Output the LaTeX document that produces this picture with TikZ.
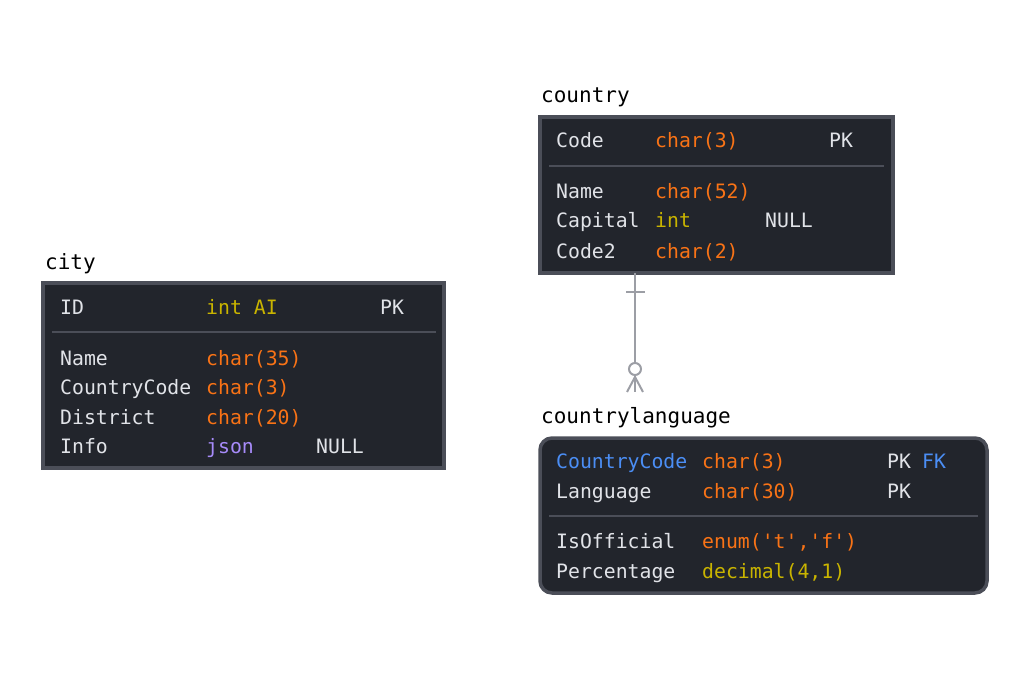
\documentclass[tikz,border=0pt]{standalone}
\usepackage{fontspec}
\setmonofont{DejaVu Sans Mono}
\usetikzlibrary{calc}

\definecolor{tblfill}{HTML}{22252C}
\definecolor{tblborder}{HTML}{4B4E58}
\definecolor{tbltext}{HTML}{E1E3E8}
\definecolor{typeorange}{HTML}{F97316}
\definecolor{typeyellow}{HTML}{C9B400}
\definecolor{typepurple}{HTML}{A78BFA}
\definecolor{keyblue}{HTML}{4B8EF5}
\definecolor{relgray}{HTML}{9C9EA5}

\tikzset{
  tbl/.style={draw=tblborder, fill=tblfill, line width=3.5pt, anchor=north west, inner sep=0pt, outer sep=0pt},
  tbltitle/.style={anchor=base west, inner sep=0pt, font=\ttfamily\fontsize{21}{21}\selectfont, text=black},
  fld/.style={anchor=base west, inner sep=0pt, font=\ttfamily\fontsize{19.8}{20}\selectfont, text=tbltext},
  sep/.style={draw=tblborder, line width=2pt},
  rel/.style={draw=relgray, line width=2pt}
}

\begin{document}
\begin{tikzpicture}[x=1pt, y=-1pt]
    % Canvas
    \useasboundingbox (0,0) rectangle (1032,676);

    % Table city
    \node[tbltitle] (cityTitle) at (45,269) {city};
    \node[tbl, minimum width=401pt, minimum height=185pt] (city) at (43,283) {};
    \draw[sep] (52,332) -- (436,332);
    \foreach \n/\t/\c/\y in {ID/int AI/typeyellow/314, Name/char(35)/typeorange/365,
        CountryCode/char(3)/typeorange/394, District/char(20)/typeorange/424, Info/json/typepurple/453}{
      \node[fld] (city-\n) at (60,\y) {\n};
      \node[fld, text=\c] (city-\n-type) at (206,\y) {\t};
    }
    \node[fld] (cityPK) at (380,314) {PK};
    \node[fld] (cityNull) at (316,453) {NULL};

    % Table country
    \node[tbltitle] (countryTitle) at (541,103) {country};
    \node[tbl, minimum width=353pt, minimum height=156pt] (country) at (540,117) {};
    \draw[sep] (549,166) -- (884,166);
    \foreach \n/\t/\c/\y in {Code/char(3)/typeorange/148, Name/char(52)/typeorange/199,
        Capital/int/typeyellow/228, Code2/char(2)/typeorange/258}{
      \node[fld] (country-\n) at (556,\y) {\n};
      \node[fld, text=\c] (country-\n-type) at (655,\y) {\t};
    }
    \node[fld] (countryPK) at (829,148) {PK};
    \node[fld] (countryNull) at (765,228) {NULL};

    % Table countrylanguage
    \node[tbltitle] (langTitle) at (541,423) {countrylanguage};
    \node[tbl, rounded corners=12pt, minimum width=447pt, minimum height=155pt] (lang) at (540,438) {};
    \draw[sep] (549,516) -- (978,516);
    \foreach \n/\t/\c/\y in {Language/char(30)/typeorange/498,
        IsOfficial/{enum('t','f')}/typeorange/548, Percentage/{decimal(4,1)}/typeyellow/578}{
      \node[fld] (lang-\n) at (556,\y) {\n};
      \node[fld, text=\c] (lang-\n-type) at (702,\y) {\t};
    }
    \node[fld, text=keyblue] (lang-CountryCode) at (556,468) {CountryCode};
    \node[fld, text=typeorange] (lang-CountryCode-type) at (702,468) {char(3)};
    \node[fld] (langPK1) at (887,468) {PK};
    \node[fld, text=keyblue] (langFK) at (922,468) {FK};
    \node[fld] (langPK2) at (887,498) {PK};

    % Relation country 1 -- 0..n countrylanguage
    \coordinate (relX) at (635,0);
    \coordinate (relFoot) at (635,392);
    \coordinate (relRing) at (635,369);
    \draw[rel] (country.south -| relX) -- ($(relRing)+(0,-6)$);
    \draw[rel] (626,292) -- (645,292);
    \draw[rel] (relRing) circle (6pt);
    \draw[rel] ($(relRing)+(0,6)$) -- (relFoot);
    \draw[rel] ($(relRing)+(0,8)$) -- ($(relFoot)+(-8,0)$);
    \draw[rel] ($(relRing)+(0,8)$) -- ($(relFoot)+(8,0)$);

\end{tikzpicture}
\end{document}
